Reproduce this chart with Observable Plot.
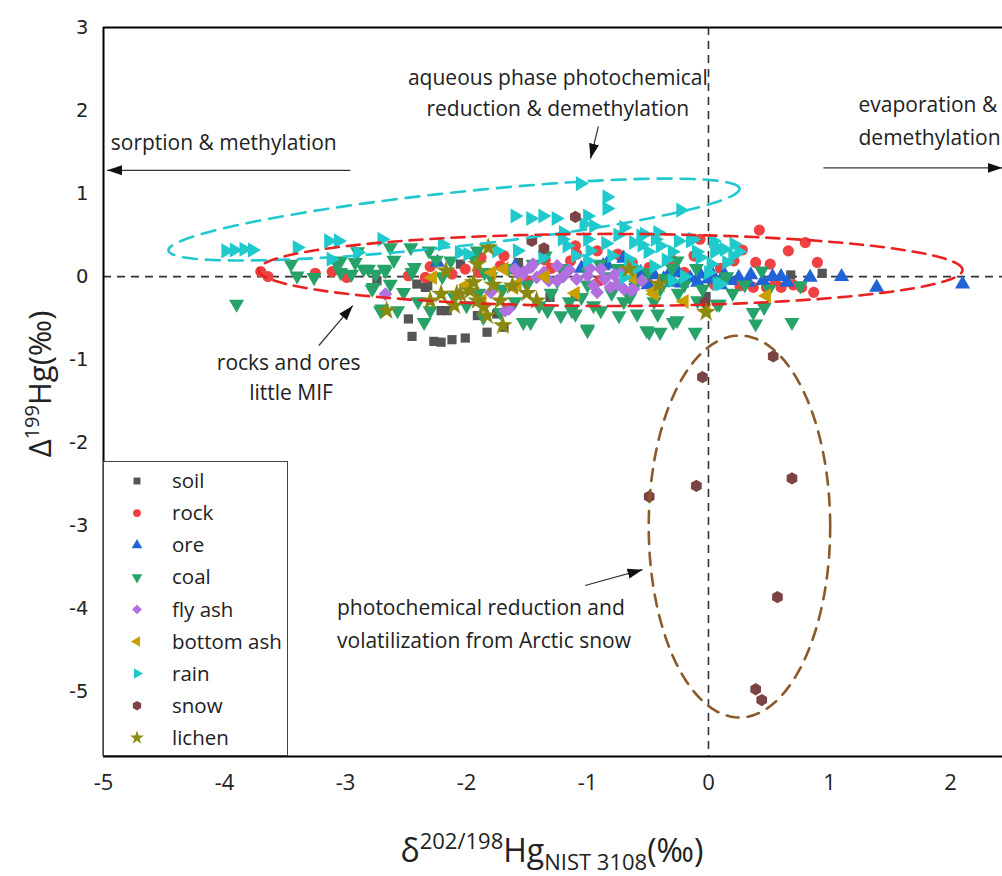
<!DOCTYPE html>
<html><head><meta charset="utf-8">
<script src="https://cdn.jsdelivr.net/npm/d3@7"></script>
<script src="https://cdn.jsdelivr.net/npm/@observablehq/plot@0.6"></script>
<style>body{margin:0;background:#fff;} #chart{position:relative;width:1002px;height:876px;overflow:hidden}</style>
</head><body><div id="chart"></div>
<script>
// ---------- data (x = δ202/198Hg, y = Δ199Hg) ----------
const categories = ["soil","rock","ore","coal","fly ash","bottom ash","rain","snow","lichen"];
const colors = ["#555555","#ef4141","#1f63d6","#27a36a","#b070e0","#c9a000","#1fc9cc","#7b4444","#8a8a12"];

const soil = [[-2.48,-0.51],[-2.45,-0.72],[-2.27,-0.78],[-2.21,-0.79],[-2.12,-0.76],[-2.01,-0.74],[-1.83,-0.67],[-1.69,-0.61],[-2.74,-0.05],[-2.41,-0.09],[-2.34,-0.13],[-2.05,0.15],[-2.21,-0.41],[-1.75,-0.45],[-2.16,-0.41],[-1.91,-0.47],[-1.54,0.07],[-1.31,-0.25],[-1.10,-0.24],[-1.57,0.17],[0.68,0.02],[0.94,0.04],[-2.32,-0.11],[-0.02,-0.24],[-1.20,0.05]];
const rock = [[-3.70,0.06],[-3.64,0.00],[-3.25,0.04],[-3.11,0.06],[-2.99,-0.01],[-2.48,0.01],[-2.34,-0.01],[-2.12,0.03],[-2.01,0.09],[-1.88,0.23],[-1.69,0.25],[-1.72,0.13],[-1.62,0.09],[-1.10,0.37],[-1.09,0.27],[-1.14,0.19],[-0.73,0.25],[-0.63,0.17],[-0.11,0.25],[-0.07,0.45],[-0.49,0.11],[-0.92,0.31],[0.42,0.56],[0.80,0.41],[0.66,0.31],[0.90,0.17],[0.28,0.32],[0.39,0.17],[0.51,0.15],[0.87,-0.19],[0.77,-0.13],[0.21,0.19],[-0.75,0.27],[-0.12,0.25],[0.37,-0.13],[0.48,-0.13],[0.60,-0.13],[0.26,-0.11],[-1.30,0.10],[-0.90,-0.05],[-0.50,-0.08],[-0.20,0.05],[-1.50,-0.05],[0.05,-0.10],[-1.35,0.20],[-0.30,0.20],[0.10,0.10],[-2.30,0.12],[-1.90,0.05],[0.70,-0.10],[0.55,-0.05]];
const ore = [[2.10,-0.09],[1.39,-0.13],[1.10,0.00],[0.84,-0.01],[0.53,0.00],[0.60,0.00],[0.65,-0.07],[0.25,-0.01],[0.33,-0.07],[0.18,-0.05],[-0.07,0.03],[-0.09,-0.07],[-0.29,-0.07],[-0.22,-0.08],[-0.34,0.00],[-0.56,0.05],[-0.87,0.13],[0.04,0.01],[0.13,0.03],[-2.24,0.17],[-0.84,0.15],[-0.37,-0.03],[-0.70,0.22],[-0.45,0.02],[-0.15,-0.02],[-1.05,0.10],[-1.60,0.12],[0.45,-0.05],[-0.60,-0.05],[-0.25,0.05],[0.35,0.02],[0.00,-0.03],[-0.50,-0.10],[0.10,-0.10]];
const coal = [[-3.90,-0.33],[-3.45,0.15],[-3.40,0.01],[-3.26,-0.01],[-3.04,0.19],[-2.92,0.17],[-2.95,0.03],[-2.81,0.09],[-2.75,0.03],[-2.67,0.07],[-2.63,0.35],[-2.46,0.35],[-2.31,0.31],[-2.77,-0.13],[-2.63,-0.09],[-2.52,-0.19],[-2.70,-0.39],[-2.57,-0.41],[-2.35,-0.55],[-2.30,-0.41],[-2.13,0.19],[-1.91,0.31],[-1.53,-0.55],[-2.10,-0.25],[-2.43,0.11],[-3.04,0.05],[-3.07,0.15],[-2.85,0.09],[-2.68,0.09],[-2.45,0.05],[-2.78,-0.15],[-2.71,-0.41],[-1.86,-0.49],[-1.72,-0.43],[-1.47,-0.55],[-1.33,-0.41],[-1.22,-0.47],[-1.10,-0.45],[-1.00,-0.63],[-0.89,-0.41],[-0.74,-0.47],[-0.59,-0.45],[-0.49,-0.67],[-0.40,-0.67],[-0.42,-0.45],[-0.26,-0.53],[-0.11,-0.67],[0.07,-0.33],[-0.09,-0.29],[-1.00,-0.65],[-0.51,-0.65],[-0.29,-0.55],[0.09,-0.33],[0.37,-0.43],[0.39,-0.57],[0.69,-0.55],[0.44,0.07],[0.46,-0.37],[0.76,-0.11],[-1.13,-0.41],[-1.90,-0.20],[-1.70,-0.15],[-1.50,-0.10],[-1.30,-0.20],[-1.00,-0.10],[-0.80,-0.20],[-0.60,-0.10],[-0.40,-0.15],[-0.20,-0.10],[-1.20,0.10],[-0.90,0.15],[-0.50,0.05],[-0.30,0.10],[0.10,-0.05],[0.30,-0.10],[-0.26,0.19],[-1.60,-0.30],[-1.40,-0.35],[-0.70,-0.30],[-2.00,-0.35],[-1.80,0.00],[-1.00,0.05],[-0.10,0.10],[-2.20,0.00],[-1.85,0.05],[-1.65,0.10],[-1.45,0.15],[-1.25,-0.05],[-1.05,-0.25],[-0.85,0.00],[-0.65,-0.25],[-0.45,-0.30],[-0.25,-0.20],[-0.05,-0.15],[0.20,-0.20],[0.50,-0.15],[-2.40,-0.30],[-2.25,0.20],[-1.95,0.25],[-1.35,0.25],[-0.75,0.10],[-0.35,-0.02],[0.15,0.00],[-1.15,-0.30],[-0.95,-0.35],[-2.60,0.20],[-2.90,0.30]];
const flyAsh = [[-2.67,-0.21],[-1.80,-0.19],[-1.68,-0.41],[-1.60,0.09],[-1.53,0.05],[-1.47,0.11],[-1.42,-0.01],[-1.36,0.05],[-1.25,0.13],[-1.09,-0.03],[-1.00,0.01],[-0.95,-0.11],[-0.92,-0.19],[-0.86,-0.03],[-0.81,-0.13],[-0.75,-0.09],[-0.70,-0.15],[-0.62,-0.15],[-1.20,0.00],[-1.32,-0.05],[-0.89,0.09],[-0.64,-0.17],[-1.65,-0.39],[-1.55,0.00],[-1.15,0.08],[-0.78,0.02],[-0.55,-0.05],[-1.45,0.15],[-1.25,-0.05],[-0.98,0.10],[-0.72,0.05]];
const bottomAsh = [[-2.28,-0.01],[-1.79,0.05],[-1.58,-0.09],[-0.45,-0.17],[-1.87,-0.29],[-0.02,-0.41],[0.48,-0.23],[-1.69,0.09],[-0.45,-0.21],[-1.61,-0.13],[-0.63,-0.01],[-2.00,-0.10],[-1.10,-0.20],[-0.20,-0.30],[-1.35,0.00]];
const rain = [[-3.99,0.31],[-3.92,0.32],[-3.84,0.33],[-3.77,0.32],[-3.40,0.35],[-3.14,0.43],[-3.06,0.43],[-2.70,0.45],[-2.90,0.29],[-3.12,0.21],[-2.20,0.39],[-2.06,0.29],[-1.60,0.73],[-1.47,0.70],[-1.37,0.73],[-1.58,0.31],[-1.99,0.27],[-1.75,0.31],[-1.26,0.70],[-1.00,0.73],[-0.95,0.61],[-0.84,0.82],[-1.20,0.53],[-1.17,0.37],[-1.00,0.19],[-0.98,0.31],[-0.70,0.59],[-0.62,0.41],[-0.53,0.51],[-0.42,0.53],[-0.40,0.37],[-0.25,0.43],[-0.15,0.43],[0.07,0.35],[-0.70,-0.01],[0.07,-0.09],[-0.23,0.80],[-0.84,0.96],[-1.03,0.63],[-1.21,0.45],[-0.56,0.49],[-0.44,0.45],[-0.13,0.45],[0.04,0.43],[0.21,0.39],[0.13,0.33],[0.10,-0.09],[-1.06,1.12],[-1.37,0.23],[-0.66,0.21],[-0.07,0.23],[0.02,0.15],[0.15,0.17],[-0.30,0.30],[-0.85,0.40],[-0.50,0.30],[-1.10,0.25],[-0.20,0.00],[0.00,0.05],[-0.45,0.12],[-0.60,0.10],[-0.35,0.20],[-0.10,0.30],[0.20,0.25],[-0.80,0.25],[-0.30,-0.05],[-1.00,0.45],[-0.75,0.50],[0.05,0.30],[-0.55,0.38],[0.25,0.30]];
const snow = [[0.535,-0.96],[-0.05,-1.21],[-0.10,-2.52],[-0.49,-2.65],[0.69,-2.43],[0.57,-3.86],[0.39,-4.97],[0.44,-5.10],[-1.10,0.72],[-1.46,0.43],[-1.36,0.34],[-0.03,-0.31]];
const lichen = [[-1.82,0.35],[-1.91,0.15],[-2.21,-0.21],[-2.30,-0.29],[-2.08,-0.21],[-1.97,-0.17],[-1.91,-0.29],[-1.86,-0.37],[-1.83,-0.47],[-1.72,-0.29],[-1.70,-0.59],[-1.62,-0.11],[-1.94,-0.07],[-1.42,-0.29],[-0.41,-0.09],[-0.66,0.09],[-0.02,-0.43],[-2.66,-0.41],[-2.17,0.07],[-2.05,-0.21],[-1.78,-0.10],[-2.10,-0.35],[-1.50,-0.20]];
const seriesValues = [soil, rock, ore, coal, flyAsh, bottomAsh, rain, snow, lichen];

const xTicks = [-5,-4,-3,-2,-1,0,1,2];
const yTicks = [3,2,1,0,-1,-2,-3,-4,-5];

// annotation texts
const notes = [
  {text:"sorption & methylation", x:-4.94, y:1.61, anchor:"start"},
  {text:"aqueous phase photochemical", x:-1.245, y:2.39, anchor:"middle"},
  {text:"reduction & demethylation", x:-1.245, y:2.02, anchor:"middle"},
  {text:"evaporation &", x:1.24, y:2.06, anchor:"start"},
  {text:"demethylation", x:1.24, y:1.67, anchor:"start"},
  {text:"rocks and ores", x:-3.47, y:-1.04, anchor:"middle"},
  {text:"little MIF", x:-3.45, y:-1.41, anchor:"middle"},
  {text:"photochemical reduction and", x:-3.07, y:-4.00, anchor:"start"},
  {text:"volatilization from Arctic snow", x:-3.07, y:-4.39, anchor:"start"}
];
const arrows = [
  {x1:-2.96, y1:1.28, x2:-4.97, y2:1.28},
  {x1:0.95, y1:1.31, x2:2.43, y2:1.31},
  {x1:-0.91, y1:1.81, x2:-0.975, y2:1.42},
  {x1:-3.22, y1:-0.83, x2:-2.94, y2:-0.35},
  {x1:-1.02, y1:-3.72, x2:-0.545, y2:-3.53}
];
// ellipse outlines: centre, semi-axis vectors
const ellipses = [
  {name:"rain", color:"#22c8d0", dash:"14,9", cx:-2.103, cy:0.687, ax:2.36, ay:0.373, bx:0.024, by:-0.323},
  {name:"rock", color:"#e82222", dash:"13,8", cx:-0.81, cy:0.08, ax:2.91, ay:0, bx:0, by:0.434},
  {name:"snow", color:"#8a5a2a", dash:"12,9", cx:0.256, cy:-3.01, ax:0.75, ay:0, bx:0, by:2.3}
];

// ---------- symbols ----------
const sqrt3 = Math.sqrt(3);
function triSym(dir){ return {draw(ctx,size){
  const y = -Math.sqrt(size/(sqrt3*3));
  let p = [[0,y*2],[-sqrt3*y,-y],[sqrt3*y,-y]];
  if (dir==="down") p = p.map(([a,b])=>[a,-b]);
  if (dir==="right") p = p.map(([a,b])=>[-b,a]);
  if (dir==="left") p = p.map(([a,b])=>[b,a]);
  ctx.moveTo(p[0][0],p[0][1]); ctx.lineTo(p[1][0],p[1][1]); ctx.lineTo(p[2][0],p[2][1]); ctx.closePath();
}}; }
const hexSym = {draw(ctx,size){
  const r = Math.sqrt(size/(1.5*sqrt3));
  for (let k=0;k<6;k++){ const a = Math.PI/6 + k*Math.PI/3; const px=r*Math.cos(a), py=r*Math.sin(a); if(k===0) ctx.moveTo(px,py); else ctx.lineTo(px,py); }
  ctx.closePath();
}};
const symbols = [d3.symbolSquare, d3.symbolCircle, triSym("up"), triSym("down"), d3.symbolDiamond2, triSym("left"), triSym("right"), hexSym, d3.symbolStar];
const radii = [5.2, 5.6, 5.6, 5.6, 6.2, 5.6, 5.6, 5.6, 6.2];

// ---------- build ----------
const ellipseMarks = ellipses.map(e => {
  const pts = d3.range(0, 361, 3).map(deg => {
    const t = deg*Math.PI/180;
    return {x: e.cx + e.ax*Math.cos(t) + e.bx*Math.sin(t), y: e.cy + e.ay*Math.cos(t) + e.by*Math.sin(t)};
  });
  return Plot.line(pts, {x:"x", y:"y", stroke:e.color, strokeWidth:2.6, strokeDasharray:e.dash});
});

const dotMarks = categories.map((c,i) => Plot.dot(seriesValues[i].map(([x,y])=>({x,y})), {
  x:"x", y:"y", fill:colors[i], stroke:"none", symbol:symbols[i], r:radii[i]
}));

const chart = Plot.plot({
  width:1002, height:876,
  marginLeft:103, marginRight:0, marginTop:27, marginBottom:120,
  x:{domain:[-5,2.43]},
  y:{domain:[-5.78,3]},
  style:{fontFamily:"'Open Sans', sans-serif", background:"white", color:"#222", overflow:"visible"},
  marks:[
    Plot.ruleY([0], {stroke:"#333", strokeWidth:1.6, strokeDasharray:"8,6"}),
    Plot.ruleX([0], {stroke:"#333", strokeWidth:1.6, strokeDasharray:"8,6"}),
    ...dotMarks,
    ...ellipseMarks,
    Plot.link(arrows, {x1:"x1", y1:"y1", x2:"x2", y2:"y2", stroke:"#333", strokeWidth:1.2}),
    ...["start","middle"].map(a => Plot.text(notes.filter(n=>n.anchor===a), {x:"x", y:"y", text:"text", textAnchor:a, fontSize:21, fill:"#222"})),
    Plot.ruleX([-5], {stroke:"#000", strokeWidth:2}),
    Plot.ruleY([3, -5.78], {stroke:"#000", strokeWidth:2}),
    Plot.axisX({ticks:xTicks, tickSize:0, tickPadding:18, fontSize:22, tickFormat:d=>String(d), label:null}),
    Plot.axisY({ticks:yTicks, tickSize:0, tickPadding:15, fontSize:19.5, fontFamily:"'DejaVu Sans', sans-serif", tickFormat:d=>String(d), label:null})
  ]
});
document.getElementById("chart").appendChild(chart);

// ---------- post: arrowheads, axis titles, legend ----------
const svg = d3.select(chart);
const defs = svg.append("defs");
defs.append("marker").attr("id","ah").attr("markerUnits","userSpaceOnUse")
  .attr("markerWidth",16).attr("markerHeight",11).attr("refX",15).attr("refY",5)
  .attr("orient","auto").attr("viewBox","0 0 16 10")
  .append("path").attr("d","M0,0L15,5L0,10Z").attr("fill","#111");
svg.selectAll('g[aria-label="link"] path').attr("marker-end","url(#ah)");

// y title
const yt = svg.append("text").attr("transform","translate(51,384) rotate(-90)")
  .attr("text-anchor","middle").attr("font-size",31).attr("fill","#222")
  .attr("font-family","'Open Sans', sans-serif");
yt.append("tspan").text("Δ");
yt.append("tspan").attr("font-size",20).attr("dy",-12).text("199");
yt.append("tspan").attr("dy",12).text("Hg(‰)");

// x title
const xt = svg.append("text").attr("x",552).attr("y",862)
  .attr("text-anchor","middle").attr("font-size",32).attr("fill","#222")
  .attr("font-family","'Open Sans', sans-serif");
xt.append("tspan").text("δ");
xt.append("tspan").attr("font-size",22).attr("dy",-13).text("202/198");
xt.append("tspan").attr("dy",13).text("Hg");
xt.append("tspan").attr("font-size",22).attr("dy",8).text("NIST 3108");
xt.append("tspan").attr("dy",-8).text("(‰)");

// legend
const lg = svg.append("g").attr("text-anchor","start");
lg.append("rect").attr("x",103.5).attr("y",461.5).attr("width",184).attr("height",294)
  .attr("fill","white").attr("stroke","#444").attr("stroke-width",1);
categories.forEach((c,i) => {
  const cy = 481 + i*32.1;
  lg.append("path").attr("transform",`translate(137,${cy})`)
    .attr("d", d3.symbol().type(symbols[i]).size(i===7||i===8||i===4?60:48)())
    .attr("fill", colors[i]);
  lg.append("text").attr("x",172).attr("y",cy).attr("dy","0.35em").attr("text-anchor","start")
    .attr("font-size",20.5).attr("fill","#222").attr("font-family","'Open Sans', sans-serif").text(c);
});
</script>
</body></html>
